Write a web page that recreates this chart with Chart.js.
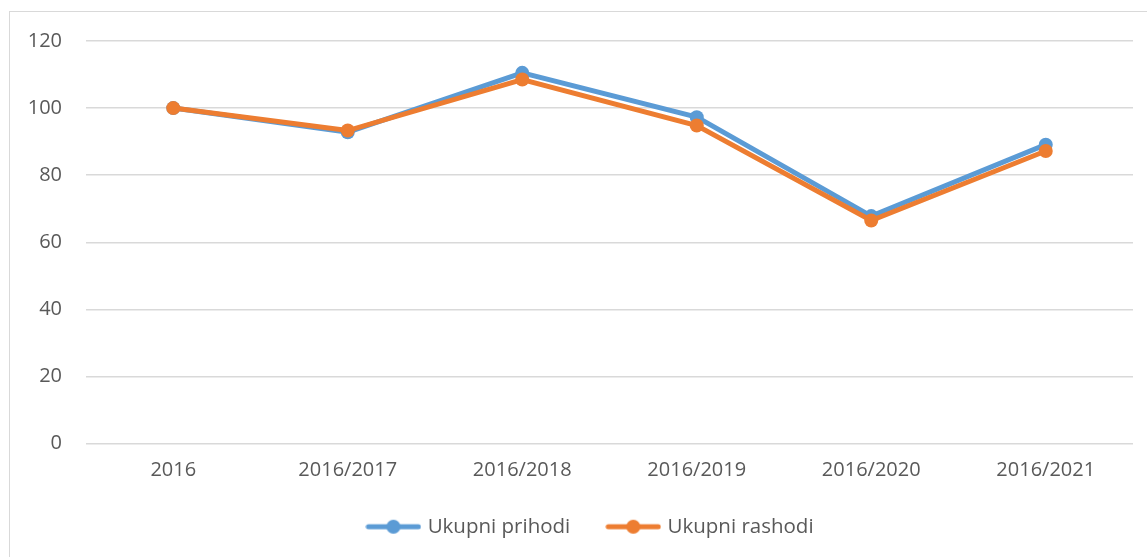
<!DOCTYPE html>
<html>
<head>
<meta charset="utf-8">
<script src="https://cdn.jsdelivr.net/npm/chart.js@4"></script>
<style>
  html, body { margin: 0; padding: 0; background: #fff; overflow: hidden; }
  #frame { position: absolute; left: 9px; top: 11px; width: 1160px; height: 600px; border: 1px solid #d9d9d9; box-sizing: border-box; }
  #wrap { position: absolute; left: 0; top: 0; width: 1147px; height: 557px; }
</style>
</head>
<body>
<div id="frame"></div>
<div id="wrap"><canvas id="chart" width="1147" height="557"></canvas></div>
<script>
// categorias e valores
var categories = ["2016", "2016/2017", "2016/2018", "2016/2019", "2016/2020", "2016/2021"];
var prihodi = [100, 92.8, 110.5, 97.3, 67.8, 89.1];
var rashodi = [100, 93.3, 108.5, 94.8, 66.5, 87.2];
var seriesNames = ["Ukupni prihodi", "Ukupni rashodi"];
var yTicks = [0, 20, 40, 60, 80, 100, 120];

var BLUE = "#5b9bd5";
var ORANGE = "#ed7d31";
var FONT = "'Open Sans', sans-serif";

// marcador da legenda: linha com círculo no meio
function legendMarker(color) {
    var c = document.createElement("canvas");
    c.width = 56;
    c.height = 16;
    var g = c.getContext("2d");
    g.strokeStyle = color;
    g.lineWidth = 5;
    g.lineCap = "round";
    g.beginPath();
    g.moveTo(3, 8);
    g.lineTo(53, 8);
    g.stroke();
    g.fillStyle = color;
    g.beginPath();
    g.arc(28, 8, 7, 0, Math.PI * 2);
    g.fill();
    return c;
}

var markers = [legendMarker(BLUE), legendMarker(ORANGE)];

// empurra a legenda um pouco para a direita, como no original
var shiftLegend = {
    id: "shiftLegend",
    afterLayout: function (chart) {
        if (chart.legend) {
            chart.legend.left += 50;
        }
    }
};

var ctx = document.getElementById("chart").getContext("2d");
var chart = new Chart(ctx, {
    type: "line",
    data: {
        labels: categories,
        datasets: [
            {
                label: seriesNames[0],
                data: prihodi,
                borderColor: BLUE,
                backgroundColor: BLUE,
                borderWidth: 5,
                pointRadius: 7,
                pointBorderWidth: 0,
                tension: 0,
                order: 1
            },
            {
                label: seriesNames[1],
                data: rashodi,
                borderColor: ORANGE,
                backgroundColor: ORANGE,
                borderWidth: 5,
                pointRadius: 7,
                pointBorderWidth: 0,
                tension: 0,
                order: 0
            }
        ]
    },
    options: {
        responsive: false,
        animation: false,
        layout: { padding: { top: 41, right: 14, bottom: 10, left: 0 } },
        plugins: {
            tooltip: { enabled: false },
            legend: {
                position: "bottom",
                labels: {
                    usePointStyle: true,
                    pointStyleWidth: 48,
                    padding: 39,
                    color: "#595959",
                    font: { family: FONT, size: 20.5 },
                    generateLabels: function (chart) {
                        return seriesNames.map(function (name, i) {
                            return {
                                text: name,
                                pointStyle: markers[i],
                                fillStyle: i === 0 ? BLUE : ORANGE,
                                strokeStyle: i === 0 ? BLUE : ORANGE,
                                lineWidth: 0,
                                hidden: false,
                                datasetIndex: i,
                                fontColor: "#595959"
                            };
                        });
                    }
                }
            }
        },
        scales: {
            x: {
                offset: true,
                grid: { display: false, drawTicks: false },
                border: { display: false },
                ticks: { color: "#595959", font: { family: FONT, size: 20 }, padding: 15, maxRotation: 0 },
                afterFit: function (scale) { scale.height = 34; }
            },
            y: {
                min: 0,
                max: 120,
                afterBuildTicks: function (scale) {
                    scale.ticks = yTicks.map(function (v) { return { value: v }; });
                },
                grid: { color: "#d9d9d9", lineWidth: 1.5, drawTicks: false },
                border: { display: false },
                ticks: { color: "#595959", font: { family: FONT, size: 20 }, padding: 24 },
                afterFit: function (scale) { scale.width = 86; }
            }
        }
    },
    plugins: [shiftLegend]
});
</script>
</body>
</html>
